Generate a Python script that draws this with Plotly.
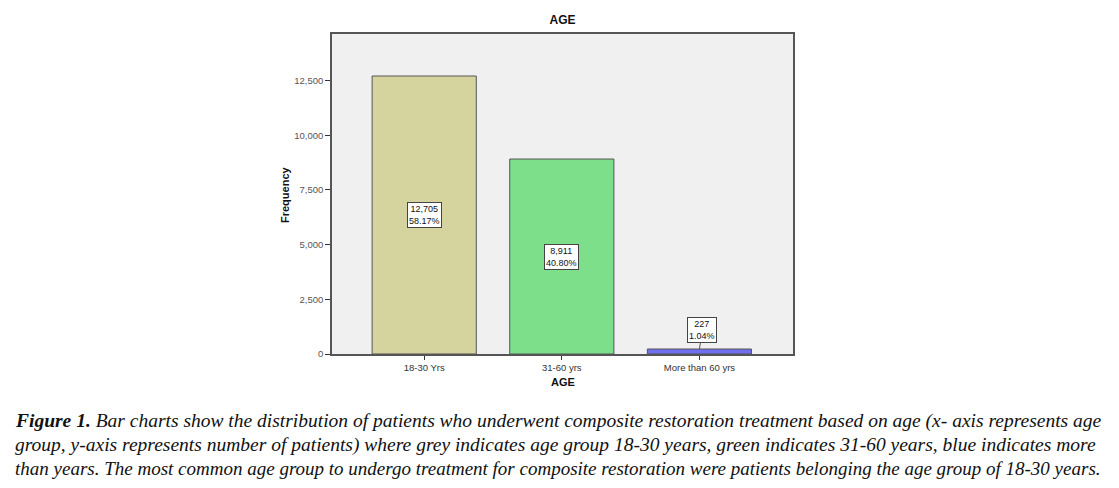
import plotly.graph_objects as go

categories = ["18-30 Yrs", "31-60 yrs", "More than 60 yrs"]
counts = [12705, 8911, 227]
bar_colors = ["#d6d49e", "#7edf8b", "#6f6ff0"]
y_ticks = [0, 2500, 5000, 7500, 10000, 12500]
caption_lines = [
    "<b>Figure 1.</b> Bar charts show the distribution of patients who underwent composite restoration treatment based on age (x- axis represents age",
    "group, y-axis represents number of patients) where grey indicates age group 18-30 years, green indicates 31-60 years, blue indicates more",
    "than years. The most common age group to undergo treatment for composite restoration were patients belonging the age group of 18-30 years.",
]

total = sum(counts)
pcts = [c / total * 100 for c in counts]

# --- layout (pixel positions in page coordinates) ---
OFF = 8  # page body offset
W, H = 1119 - OFF, 488 - OFF
L, R, T, B = 332 - OFF, 793 - OFF, 34 - OFF, 354 - OFF
caption_y = [421, 445, 468]
caption_sizes = [19.5, 19.5, 19]   # justified lines slightly wider
caption_left = 13

fig = go.Figure()
fig.add_trace(go.Bar(
    x=categories, y=counts, marker=dict(color=bar_colors, line=dict(color="#555555", width=1)),
    width=0.757, showlegend=False,
))

annotations = []
for cat, c, p in zip(categories, counts, pcts):
    txt = f"{c:,}<br>{p:.2f}%"
    common = dict(xref="x", yref="y", text=txt,
                  font=dict(family="Arial", size=9, color="#111"),
                  bgcolor="white", bordercolor="#444", borderwidth=1, borderpad=1)
    if c > 2000:
        annotations.append(dict(x=cat, y=c / 2, showarrow=False, **common))
    else:
        annotations.append(dict(x=cat, y=c, showarrow=True, arrowhead=0, arrowwidth=1,
                                arrowcolor="#555", ax=3, ay=-19, **common))

def py2paper(py):
    return (B - (py - OFF)) / (B - T)

def px2paper(px):
    return ((px - OFF) - L) / (R - L)

for py, line, fs in zip(caption_y, caption_lines, caption_sizes):
    annotations.append(dict(x=px2paper(caption_left), y=py2paper(py), xref="paper", yref="paper",
                            xanchor="left", yanchor="middle", showarrow=False,
                            text=f"<i>{line}</i>",
                            font=dict(family="Liberation Serif", size=fs, color="#111")))

# axis titles
annotations.append(dict(x=px2paper(285), y=py2paper(195), xref="paper", yref="paper",
                        text="<b>Frequency</b>", textangle=-90, showarrow=False,
                        xanchor="center", yanchor="middle",
                        font=dict(family="Arial", size=11, color="#111")))
annotations.append(dict(x=px2paper(563), y=py2paper(382), xref="paper", yref="paper",
                        text="<b>AGE</b>", showarrow=False, xanchor="center", yanchor="middle",
                        font=dict(family="Arial", size=11, color="#111")))

fig.update_layout(
    width=W, height=H,
    margin=dict(l=L, r=W - R, t=T, b=H - B, pad=0),
    paper_bgcolor="white", plot_bgcolor="#f0f0f0",
    title=dict(text="<b>AGE</b>", x=(L + R) / 2 / W, xanchor="center", y=1 - (20 - OFF) / H,
               yanchor="middle", font=dict(family="Arial", size=12, color="#111")),
    annotations=annotations,
)
fig.update_xaxes(
    range=[-0.67, 2.68], showline=True, linecolor="#555", linewidth=1.5, mirror=True,
    ticks="outside", ticklen=4, tickcolor="#333",
    tickfont=dict(family="Arial", size=9.5, color="#333"),
    showgrid=False,
)
fig.update_yaxes(
    range=[0, 14625], showline=True, linecolor="#555", linewidth=1.5, mirror=True,
    tickvals=y_ticks, tickformat=",", ticks="outside", ticklen=5, tickcolor="#333",
    tickfont=dict(family="Arial", size=9.5, color="#555"),
    showgrid=False, zeroline=False,
)

fig.write_html("out.html")
